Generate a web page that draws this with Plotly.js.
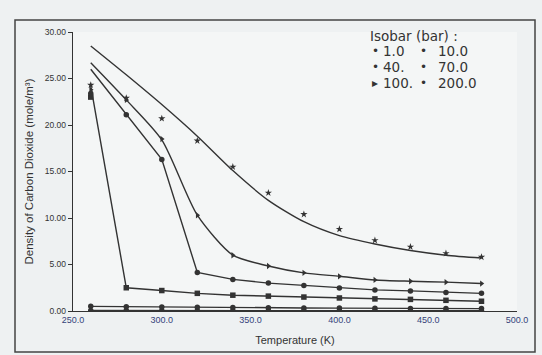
<!DOCTYPE html>
<html><head><meta charset="utf-8">
<script src="https://cdn.plot.ly/plotly-3.0.1.min.js"></script>
<style>html,body{margin:0;padding:0;background:#e4e8ea;}#chart{width:542px;height:355px;}</style>
</head><body><div id="chart"></div>
<script>
// Temperatures (K)
const temps = [260, 280, 300, 320, 340, 360, 380, 400, 420, 440, 460, 480];
// Measured density (markers), by isobar (bar)
const meas_1   = [0.05, 0.05, 0.04, 0.04, 0.04, 0.03, 0.03, 0.03, 0.03, 0.03, 0.03, 0.02];
const meas_10  = [0.50, 0.46, 0.42, 0.39, 0.37, 0.35, 0.33, 0.31, 0.30, 0.28, 0.27, 0.26];
const meas_40  = [23.0, 2.5, 2.2, 1.9, 1.7, 1.6, 1.5, 1.4, 1.3, 1.25, 1.15, 1.05];
const meas_70  = [23.4, 21.1, 16.3, 4.15, 3.4, 3.0, 2.73, 2.47, 2.27, 2.16, 2.0, 1.9];
const meas_100 = [23.8, 22.7, 18.5, 10.3, 6.0, 4.84, 4.1, 3.73, 3.34, 3.2, 3.1, 2.95];
const meas_200 = [24.3, 22.9, 20.7, 18.3, 15.5, 12.7, 10.4, 8.8, 7.6, 6.9, 6.2, 5.8];
// Model curves (lines), by isobar (bar)
const model_1   = [0.05, 0.05, 0.04, 0.04, 0.04, 0.03, 0.03, 0.03, 0.03, 0.03, 0.03, 0.02];
const model_10  = [0.50, 0.46, 0.42, 0.39, 0.37, 0.35, 0.33, 0.31, 0.30, 0.28, 0.27, 0.26];
const model_40  = [24.2, 2.5, 2.2, 1.9, 1.7, 1.6, 1.5, 1.4, 1.3, 1.25, 1.15, 1.05];
const model_70  = [26.0, 21.1, 16.3, 4.15, 3.4, 3.0, 2.73, 2.47, 2.27, 2.16, 2.0, 1.9];
const model_100 = [26.7, 22.7, 18.4, 10.3, 6.0, 4.84, 4.1, 3.73, 3.34, 3.2, 3.1, 2.95];
const model_200 = [28.5, 25.4, 22.2, 18.8, 15.1, 11.9, 9.6, 8.1, 7.2, 6.5, 6.0, 5.7];
// Legend labels and tick labels
const isobarLabels = ['1.0', '10.0', '40.', '70.0', '100.', '200.0'];
const legendGlyphs = ['•', '•', '•', '•', '▸', '•'];
const yTicks = [0, 5, 10, 15, 20, 25, 30];
const xTicks = [250, 300, 350, 400, 450, 500];

const ink = '#333333';
const series = [
  {m: meas_1,   l: model_1,   sym: 'circle',         shape: 'linear'},
  {m: meas_10,  l: model_10,  sym: 'circle',         shape: 'linear'},
  {m: meas_40,  l: model_40,  sym: 'square',         shape: 'linear'},
  {m: meas_70,  l: model_70,  sym: 'circle',         shape: 'linear'},
  {m: meas_100, l: model_100, sym: 'triangle-right', shape: 'spline'},
  {m: meas_200, l: model_200, sym: 'star',           shape: 'spline'}
];
const traces = [];
series.forEach((s, i) => {
  traces.push({x: temps, y: s.l, type: 'scatter', mode: 'lines', name: isobarLabels[i] + ' bar model',
    line: {color: ink, width: 1.4, shape: s.shape, smoothing: 0.7}, showlegend: false, hoverinfo: 'skip'});
  traces.push({x: temps, y: s.m, type: 'scatter', mode: 'markers', name: isobarLabels[i] + ' bar',
    marker: {color: ink, size: 5.5, symbol: s.sym}, showlegend: false});
});

const L = 73, T = 32, W = 444, H = 279;
const px = v => (v - L) / W;
const py = v => (T + H - v) / H;
const font = 'Liberation Sans, Arial, sans-serif';
const lfont = {family: 'DejaVu Sans, sans-serif', size: 13.5, color: ink};
const annotations = [{
  text: 'Isobar (bar) :', xref: 'paper', yref: 'paper', x: px(368), y: py(36),
  xanchor: 'left', yanchor: 'middle', showarrow: false, font: lfont
}];
const colGlyphX = [370, 418], colTextX = [381, 436], rowY = [51, 67, 83];
isobarLabels.forEach((lab, i) => {
  const col = i % 2, row = Math.floor(i / 2);
  annotations.push({
    text: legendGlyphs[i], xref: 'paper', yref: 'paper',
    x: px(colGlyphX[col]), y: py(rowY[row]), xanchor: 'left', yanchor: 'middle', showarrow: false,
    font: {family: 'DejaVu Sans, sans-serif', size: 12, color: ink}
  });
  annotations.push({
    text: lab, xref: 'paper', yref: 'paper',
    x: px(colTextX[col]), y: py(rowY[row]), xanchor: 'left', yanchor: 'middle', showarrow: false,
    font: lfont
  });
});

const layout = {
  width: 542, height: 355,
  margin: {l: L, r: 542 - L - W, t: T, b: 355 - T - H},
  paper_bgcolor: '#eef1f2', plot_bgcolor: '#f4f6f6',
  showlegend: false,
  font: {family: font, color: ink},
  xaxis: {range: [250, 500], tickvals: xTicks, ticktext: xTicks.map(v => v.toFixed(1)),
    showgrid: false, zeroline: false, showline: true, linecolor: ink, linewidth: 1.3,
    ticks: '', tickfont: {family: font, size: 9, color: '#34427a'},
    title: {text: 'Temperature (K)', font: {family: font, size: 11, color: ink}, standoff: 12}},
  yaxis: {range: [0, 30], tickvals: yTicks, ticktext: yTicks.map(v => v.toFixed(2)),
    showgrid: false, zeroline: false, showline: true, linecolor: ink, linewidth: 1.3,
    ticks: 'outside', ticklen: 4, tickcolor: ink, tickfont: {family: font, size: 8.5, color: ink},
    title: {text: 'Density of Carbon Dioxide (mole/m³)', font: {family: font, size: 11.5, color: ink}, standoff: 8}},
  annotations: annotations,
  shapes: [{type: 'rect', xref: 'paper', yref: 'paper', x0: px(15), x1: px(535), y0: py(352), y1: py(20),
    line: {color: '#444', width: 1.5}, fillcolor: 'rgba(0,0,0,0)', layer: 'below'}]
};
Plotly.newPlot('chart', traces, layout, {displayModeBar: false, staticPlot: true});
</script></body></html>
